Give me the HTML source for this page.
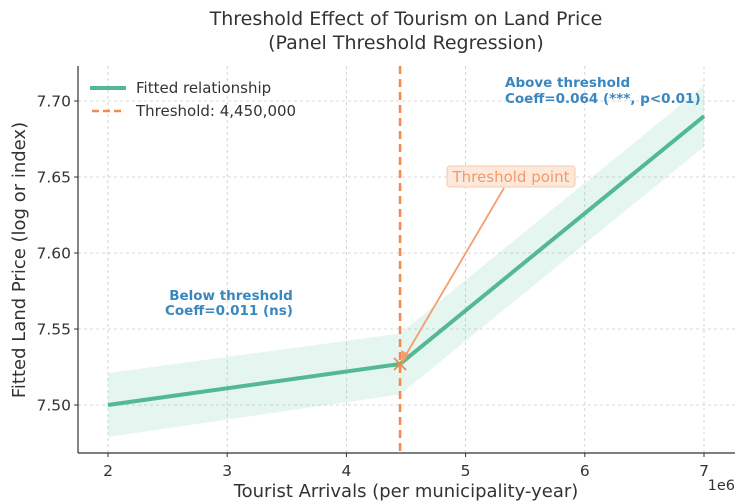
<!DOCTYPE html>
<html><head><meta charset="utf-8"><style>
body{margin:0;background:#fff;}
svg{display:block;font-family:"DejaVu Sans","Liberation Sans",sans-serif;}
</style></head><body>
<svg id="chart" width="738" height="501" viewBox="0 0 738 501" xmlns="http://www.w3.org/2000/svg">
<text x="406" y="25" font-size="19" fill="#333" text-anchor="middle">Threshold Effect of Tourism on Land Price</text>
<text x="406" y="49" font-size="19" fill="#333" text-anchor="middle">(Panel Threshold Regression)</text>
<g id="grid"></g>
<g id="band"></g>
<g id="marks"></g>
<g id="axes"></g>
<text x="406" y="497" font-size="18" fill="#333" text-anchor="middle">Tourist Arrivals (per municipality-year)</text>
<text x="735" y="490" font-size="14.5" fill="#333" text-anchor="end">1e6</text>
<text transform="translate(25,260) rotate(-90)" font-size="18" fill="#333" text-anchor="middle">Fitted Land Price (log or index)</text>
<g>
<line x1="90" y1="88" x2="126" y2="88" stroke="#52b993" stroke-width="4"/>
<text x="136" y="93" font-size="15" fill="#333">Fitted relationship</text>
<line x1="92" y1="111" x2="124" y2="111" stroke="#f28a4e" stroke-width="2.5" stroke-dasharray="7,4"/>
<text x="136" y="116" font-size="15" fill="#333">Threshold: 4,450,000</text>
</g>
<text x="505" y="87" font-size="13.5" font-weight="bold" fill="#3a87c0">Above threshold</text>
<text x="505" y="103" font-size="13.5" font-weight="bold" fill="#3a87c0">Coeff=0.064 (***, p&lt;0.01)</text>
<text x="231" y="300" font-size="13.5" font-weight="bold" fill="#3a87c0" text-anchor="middle">Below threshold</text>
<text x="229" y="315" font-size="13.5" font-weight="bold" fill="#3a87c0" text-anchor="middle">Coeff=0.011 (ns)</text>
<g>
<line x1="504" y1="188" x2="404" y2="358" stroke="#f2a070" stroke-width="1.8"/>
<polygon points="402,362 401,350 409,354" fill="#f2a070"/>
<rect x="447" y="166" width="128" height="21" rx="3" fill="#fde9dc" stroke="#f6c9ad"/>
<text x="511" y="182" font-size="15" fill="#f09a68" text-anchor="middle">Threshold point</text>
</g>
</svg>
<script>
const xs = [2, 4.45, 7];
const fitted = [7.50, 7.527, 7.690];
const lower = [7.479, 7.507, 7.670];
const upper = [7.521, 7.547, 7.710];
const xTicks = [2, 3, 4, 5, 6, 7];
const yTicks = [7.50, 7.55, 7.60, 7.65, 7.70];
const threshold = 4.45;
const thresholdY = 7.527;

const L=78,R=735,T=66,B=453;
const X=v=>108+(v-2)*119.2;
const Y=v=>405-(v-7.5)/0.05*76;
const ns="http://www.w3.org/2000/svg";
function mk(tag,attrs,parent){const e=document.createElementNS(ns,tag);for(const k in attrs)e.setAttribute(k,attrs[k]);parent.appendChild(e);return e;}
const grid=document.getElementById('grid'),band=document.getElementById('band'),marks=document.getElementById('marks'),axes=document.getElementById('axes');
xTicks.forEach(t=>{
  const g=mk('line',{x1:X(t),x2:X(t),y1:T,y2:B,stroke:'#ccc','stroke-dasharray':'3,3','stroke-width':0.8},grid);
  
  
  const tk=mk('line',{x1:X(t),x2:X(t),y1:B,y2:B+4,stroke:'#333'},axes);
  
  
  const lb=mk('text',{x:X(t),y:B+23,'font-size':15.5,fill:'#333','text-anchor':'middle'},axes);
  lb.textContent=t;
  
  
});
yTicks.forEach(t=>{
  const g=mk('line',{x1:L,x2:R,y1:Y(t),y2:Y(t),stroke:'#ccc','stroke-dasharray':'3,3','stroke-width':0.8},grid);
  
  
  const tk=mk('line',{x1:L-4,x2:L,y1:Y(t),y2:Y(t),stroke:'#333'},axes);
  
  
  const lb=mk('text',{x:L-7,y:Y(t)+5.5,'font-size':15.5,fill:'#333','text-anchor':'end'},axes);
  lb.textContent=t.toFixed(2);
  
  
});
let pts=xs.map((x,i)=>X(x)+','+Y(upper[i])).concat(xs.slice().reverse().map((x,j)=>{const i=xs.length-1-j;return X(x)+','+Y(lower[i]);}));
const bp=mk('polygon',{points:pts.join(' '),fill:'#52b993','fill-opacity':0.15},band);


const th=mk('line',{x1:X(threshold),x2:X(threshold),y1:T,y2:B,stroke:'#f28a4e','stroke-width':2.5,'stroke-dasharray':'8,5'},marks);


const fl=mk('polyline',{points:xs.map((x,i)=>X(x)+','+Y(fitted[i])).join(' '),fill:'none',stroke:'#52b993','stroke-width':4},marks);


const cx=X(threshold),cy=Y(thresholdY);
const m=mk('path',{d:`M${cx-6},${cy-6}L${cx+6},${cy+6}M${cx-6},${cy+6}L${cx+6},${cy-6}`,stroke:'#f28a4e','stroke-width':1.8},marks);


const ax1=mk('line',{x1:L,x2:L,y1:T,y2:B,stroke:'#333','stroke-width':1.2},axes);


const ax2=mk('line',{x1:L,x2:R,y1:B,y2:B,stroke:'#333','stroke-width':1.2},axes);


</script>
</body></html>
